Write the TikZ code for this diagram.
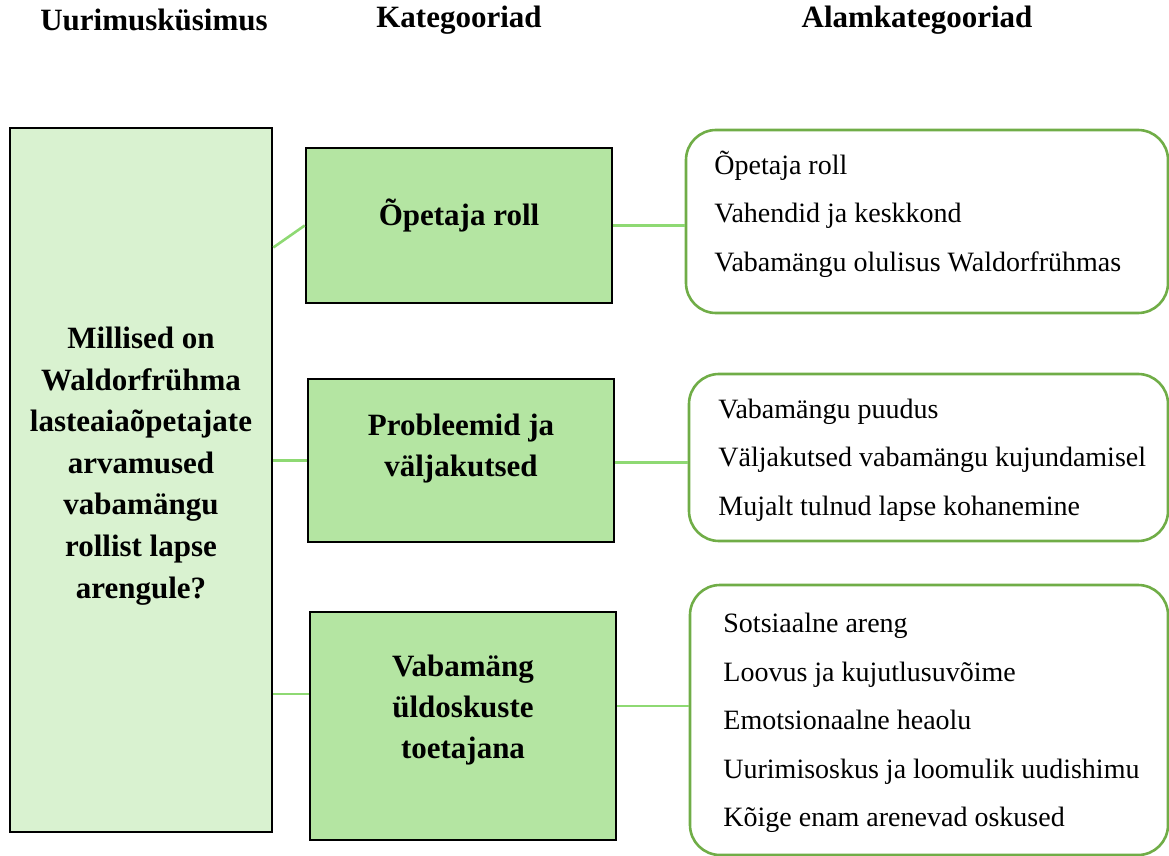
\documentclass[tikz,border=0pt]{standalone}
\usepackage{fontspec}
\setmainfont{Liberation Serif}
\usepackage{tikz}
\usetikzlibrary{positioning,calc}
\usepackage{xcolor}
\definecolor{qgreen}{HTML}{D9F2D0}
\definecolor{catgreen}{HTML}{B4E5A2}
\definecolor{subgreen}{HTML}{70AD47}
\definecolor{linkgreen}{HTML}{8ED973}

\begin{document}
\begin{tikzpicture}[
    x=0.5pt, y=-0.5pt,
    head/.style={font=\fontsize{15.5}{18}\selectfont\bfseries, inner sep=0pt},
    qbox/.style={rectangle, draw=black, fill=qgreen, line width=1.3pt, minimum width=131pt, minimum height=352pt},
    catbox/.style={rectangle, draw=black, fill=catgreen, line width=1.3pt, minimum width=153pt},
    boxtext/.style={align=center, font=\fontsize{15.5}{20.5}\selectfont\bfseries, inner sep=0pt},
    subbox/.style={rectangle, draw=subgreen, fill=white, rounded corners=15pt, line width=1.3pt, minimum width=239pt},
    subtext/.style={anchor=west, align=left, inner sep=0pt, font=\fontsize{14}{24.3}\selectfont},
    link/.style={draw=linkgreen, line width=1.3pt}
]
\useasboundingbox (0,0) rectangle (1169,856);

% headers
\node[head] (hq) at (154,20) {Uurimusküsimus};
\node[head] (hc) at (459,20) {Kategooriad};
\node[head] (hs) at (917,20) {Alamkategooriad};

% research question
\node[qbox] (q) at (141,480) {};
\node[boxtext, font=\fontsize{15.5}{20.8}\selectfont\bfseries] (qt) at (141,466) {Millised on\\Waldorfrühma\\lasteaiaõpetajate\\arvamused\\vabamängu\\rollist lapse\\arengule?};

% categories
\node[catbox, minimum height=77.5pt] (c1) at (459,225.5) {};
\node[boxtext] (c1t) at (459,215) {Õpetaja roll};
\node[catbox, minimum height=81.5pt] (c2) at (461,460.5) {};
\node[boxtext] (c2t) at (461,449) {Probleemid ja\\väljakutsed};
\node[catbox, minimum height=114pt] (c3) at (463,726) {};
\node[boxtext] (c3t) at (463,710) {Vabamäng\\üldoskuste\\toetajana};

% subcategories
\node[subbox, minimum width=241pt, minimum height=91.5pt] (s1) at (927,221.5) {};
\node[subtext] (s1t) at (714,214) {Õpetaja roll\\Vahendid ja keskkond\\Vabamängu olulisus Waldorfrühmas};
\node[subbox, minimum width=239.5pt, minimum height=83.5pt] (s2) at (928.5,457.5) {};
\node[subtext] (s2t) at (718,460) {Vabamängu puudus\\Väljakutsed vabamängu kujundamisel\\Mujalt tulnud lapse kohanemine};
\node[subbox, minimum height=135pt] (s3) at (929,720) {};
\node[subtext] (s3t) at (723,723) {Sotsiaalne areng\\Loovus ja kujutlusuvõime\\Emotsionaalne heaolu\\Uurimisoskus ja loomulik uudishimu\\Kõige enam arenevad oskused};

% links
\draw[link] ([yshift=-11pt]q.east |- c1.west) -- (c1.west);
\draw[link] (q.east |- c2.west) -- (c2.west);
\draw[link] ([yshift=16pt]q.east |- c3.west) -- ([yshift=16pt]c3.west);
\draw[link] (c1.east) -- (c1.east -| s1.west);
\draw[link] ([yshift=-1pt]c2.east) -- ([yshift=-1pt]c2.east -| s2.west);
\draw[link] ([yshift=10pt]c3.east) -- ([yshift=10pt]c3.east -| s3.west);
\end{tikzpicture}
\end{document}
